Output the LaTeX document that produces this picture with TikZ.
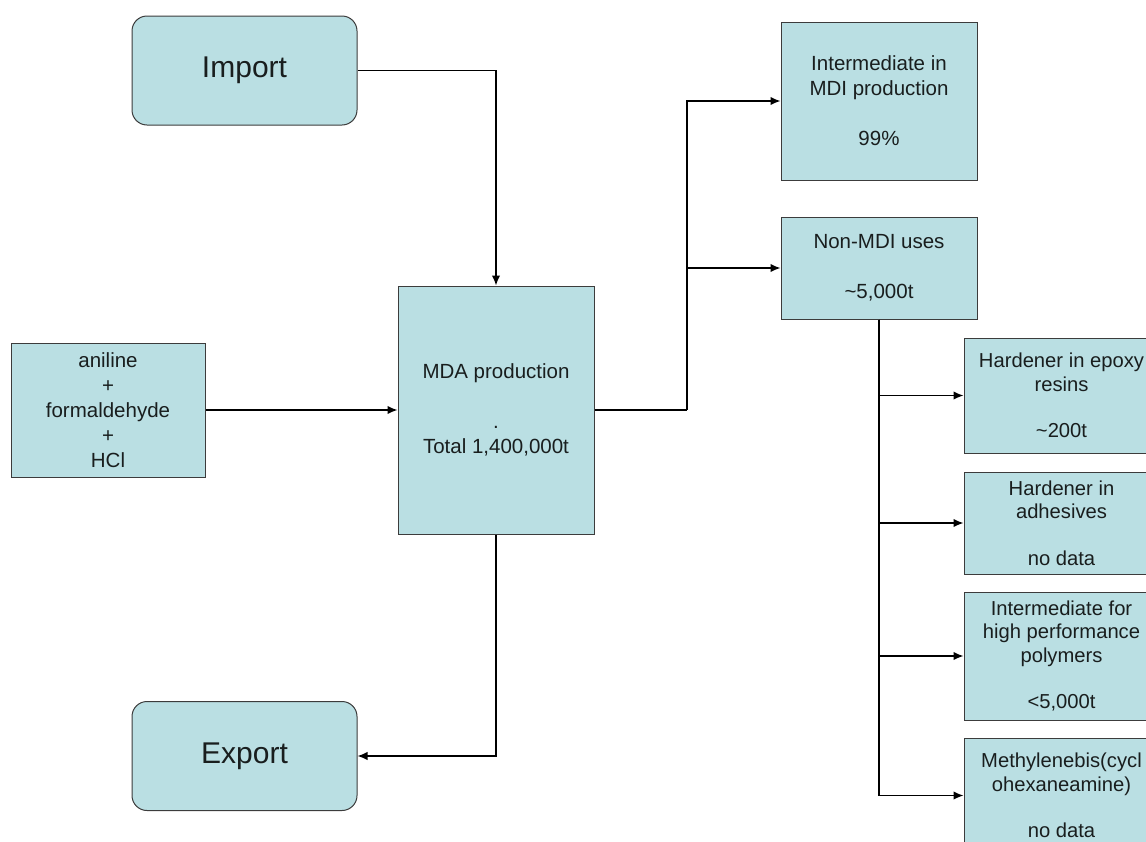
\documentclass[tikz,border=0pt]{standalone}
\usepackage{fontspec}
\setmainfont{Liberation Sans}
\usepackage{tikz}
\usetikzlibrary{arrows.meta, positioning}
\usepackage{xcolor}
\definecolor{boxfill}{RGB}{186,223,227}
\definecolor{boxline}{RGB}{60,60,60}
\definecolor{boxtext}{RGB}{25,30,30}

\begin{document}
\begin{tikzpicture}[
		x=1pt, y=-1pt,
		box/.style={draw=boxline, fill=boxfill, text=boxtext, line width=1pt, rectangle, align=center, inner sep=0pt, minimum width=196pt, font=\fontsize{20.5}{25}\selectfont},
		usebox/.style={box, minimum width=195pt, font=\fontsize{20.2}{23.4}\selectfont},
		tradebox/.style={box, rounded corners=15pt, minimum width=225pt, minimum height=109pt, font=\fontsize{30}{36}\selectfont},
		arrow/.style={-{Latex[length=10pt, width=8.5pt]}, line width=1.4pt}
		]
		\useasboundingbox (0,0) rectangle (1146,841);
		
		% Nodes
		\node[tradebox] (import) at (244.5,70.5) {Import};
		\node[tradebox] (export) at (244.5,756) {Export};
		\node[box, minimum height=248pt] (mda) at (496,410) {MDA production\\[25pt] .\\ Total 1,400,000t};
		\node[box, minimum width=194pt, minimum height=134pt] (reactants) at (108,410) {aniline\\ +\\ formaldehyde\\ +\\ HCl};
		\node[box, minimum height=158pt] (mdi) at (879,101) {Intermediate in\\ MDI production\\[25pt] 99\%};
		\node[box, minimum height=102pt, below=36pt of mdi] (nonmdi) {Non-MDI uses\\[25pt] \textasciitilde5,000t};
		\node[usebox, minimum height=115pt] (epoxy) at (1061.5,395.5) {Hardener in epoxy\\ resins\\[23.4pt] \textasciitilde200t};
		\node[usebox, minimum height=102pt] (adhesive) at (1061.5,523) {Hardener in\\ adhesives\\[23.4pt] no data};
		\node[usebox, minimum height=128pt] (polymer) at (1061.5,656) {Intermediate for\\ high performance\\ polymers\\[23.4pt] <5,000t};
		\node[usebox, minimum height=115pt] (cyclo) at (1061.5,795.5) {Methylenebis(cycl\\ ohexaneamine)\\[23.4pt] no data};
		\coordinate (split) at (687,410);
		
		% Arrows
		\draw[arrow] (import) -| (mda);
		\draw[arrow] (mda) |- (export);
		\draw[arrow] (reactants) -- (mda);
		\draw[line width=1.4pt] (mda) -- (split);
		\draw[arrow] (split) |- (mdi);
		\draw[arrow] (split) |- (nonmdi);
		\foreach \use in {epoxy, adhesive, polymer, cyclo}
			\draw[arrow] (nonmdi) |- (\use);
	\end{tikzpicture}
\end{document}
